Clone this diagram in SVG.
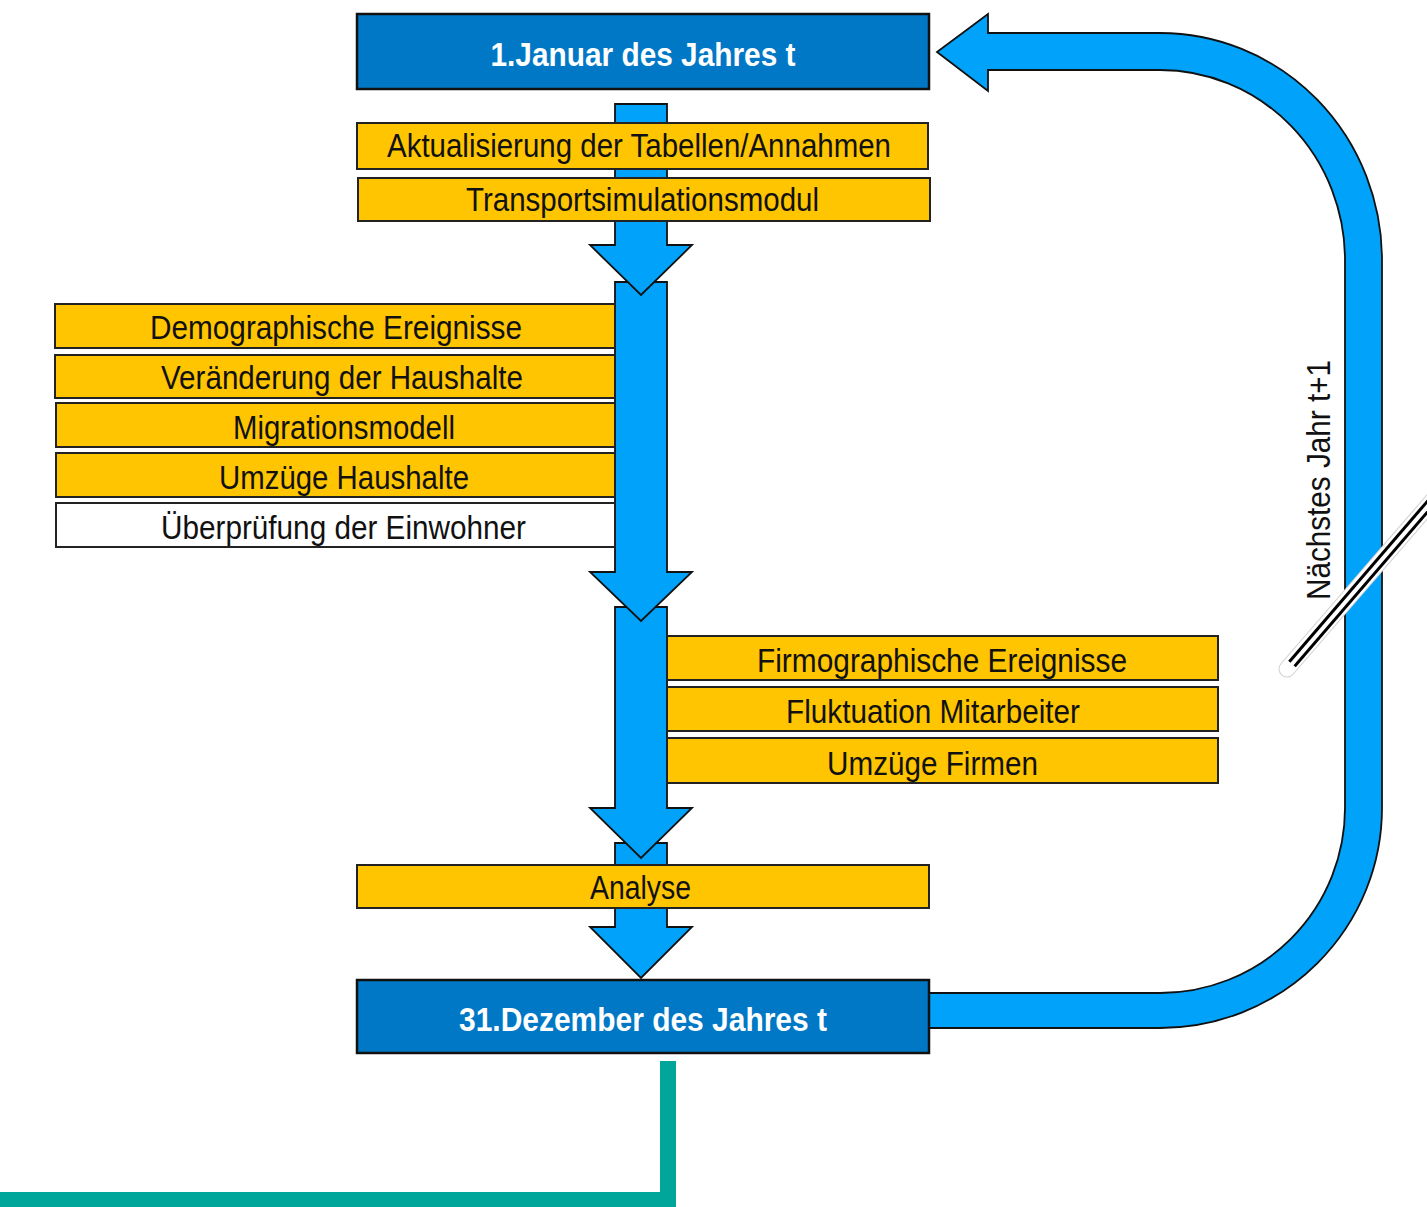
<svg xmlns="http://www.w3.org/2000/svg" width="1427" height="1207" viewBox="0 0 1427 1207">
<style>
.bg{fill:#ffffff}
.arrow{fill:#00A2FA;stroke:#111;stroke-width:1.8;stroke-linejoin:miter}
.blue{fill:#0078C6;stroke:#111;stroke-width:2.5}
.yel{fill:#FFC500;stroke:#222;stroke-width:2}
.wht{fill:#ffffff;stroke:#222;stroke-width:2}
.t{font-family:"Liberation Sans Narrow","Arial Narrow","Liberation Sans",Arial,sans-serif;font-size:33px;fill:#111;text-anchor:middle}
.tb{font-family:"Liberation Sans Narrow","Arial Narrow","Liberation Sans",Arial,sans-serif;font-size:33px;font-weight:bold;fill:#ffffff;text-anchor:middle}
.green{fill:#00A699}
</style>
<rect class="bg" x="0" y="0" width="1427" height="1207"/>

<g id="connectors">
  <path id="loop" class="arrow" d="M925,993 L1160,993 A185,185 0 0 0 1345,808 L1345,260 A185,190 0 0 0 1160,70 L988,70 L988,91 L937,52 L988,14 L988,33 L1160,33 A222,227 0 0 1 1382,260 L1382,808 A222,220 0 0 1 1160,1028 L925,1028 Z"/>
  <polygon id="arrow4" class="arrow" points="615,843 667,843 667,927 692,927 641,978 590,927 615,927"/>
  <polygon id="arrow3" class="arrow" points="615,607 667,607 667,808 692,808 641,858 590,808 615,808"/>
  <polygon id="arrow2" class="arrow" points="615,282 667,282 667,572 692,572 641,621 590,572 615,572"/>
  <polygon id="arrow1" class="arrow" points="615,104 667,104 667,245 692,245 641,295 590,245 615,245"/>
  <path id="output-line" class="green" d="M660,1061 L676,1061 L676,1207 L0,1207 L0,1192 L660,1192 Z"/>
</g>

<g id="n-start">
  <rect class="blue" x="357" y="14" width="572" height="75"/>
  <text class="tb" x="643" y="66" textLength="305" lengthAdjust="spacingAndGlyphs">1.Januar des Jahres t</text>
</g>
<g id="n-aktualisierung">
  <rect class="yel" x="357" y="123" width="571" height="46"/>
  <text class="t" x="639" y="157" textLength="504" lengthAdjust="spacingAndGlyphs">Aktualisierung der Tabellen/Annahmen</text>
</g>
<g id="n-transport">
  <rect class="yel" x="358" y="178" width="572" height="43"/>
  <text class="t" x="642.5" y="211" textLength="353" lengthAdjust="spacingAndGlyphs">Transportsimulationsmodul</text>
</g>

<g id="n-demographie">
  <rect class="yel" x="55" y="304" width="560" height="44"/>
  <text class="t" x="336" y="339" textLength="372" lengthAdjust="spacingAndGlyphs">Demographische Ereignisse</text>
</g>
<g id="n-haushalte">
  <rect class="yel" x="55" y="355" width="560" height="43"/>
  <text class="t" x="342" y="389" textLength="362" lengthAdjust="spacingAndGlyphs">Veränderung der Haushalte</text>
</g>
<g id="n-migration">
  <rect class="yel" x="56" y="403" width="559" height="44"/>
  <text class="t" x="344" y="439" textLength="222" lengthAdjust="spacingAndGlyphs">Migrationsmodell</text>
</g>
<g id="n-umzuege-haushalte">
  <rect class="yel" x="56" y="453" width="559" height="44"/>
  <text class="t" x="344" y="489" textLength="250" lengthAdjust="spacingAndGlyphs">Umzüge Haushalte</text>
</g>
<g id="n-einwohner">
  <rect class="wht" x="56" y="503" width="559" height="44"/>
  <text class="t" x="343.5" y="539" textLength="365" lengthAdjust="spacingAndGlyphs">Überprüfung der Einwohner</text>
</g>

<g id="n-firmographie">
  <rect class="yel" x="667" y="636" width="551" height="44"/>
  <text class="t" x="942" y="672" textLength="370" lengthAdjust="spacingAndGlyphs">Firmographische Ereignisse</text>
</g>
<g id="n-fluktuation">
  <rect class="yel" x="667" y="687" width="551" height="44"/>
  <text class="t" x="933" y="723" textLength="294" lengthAdjust="spacingAndGlyphs">Fluktuation Mitarbeiter</text>
</g>
<g id="n-umzuege-firmen">
  <rect class="yel" x="667" y="738" width="551" height="45"/>
  <text class="t" x="932.5" y="775" textLength="211" lengthAdjust="spacingAndGlyphs">Umzüge Firmen</text>
</g>

<g id="n-analyse">
  <rect class="yel" x="357" y="865" width="572" height="43"/>
  <text class="t" x="640.5" y="899" textLength="101" lengthAdjust="spacingAndGlyphs">Analyse</text>
</g>
<g id="n-end">
  <rect class="blue" x="357" y="980" width="572" height="73"/>
  <text class="tb" x="643" y="1031" textLength="368" lengthAdjust="spacingAndGlyphs">31.Dezember des Jahres t</text>
</g>

<g id="loop-label">
  <text class="t" transform="translate(1330,480) rotate(-90)" x="0" y="0" textLength="240" lengthAdjust="spacingAndGlyphs">Nächstes Jahr t+1</text>
</g>

<g id="break-mark">
  <line x1="1287" y1="669" x2="1440" y2="492" stroke="#d0d0d0" stroke-width="17" stroke-linecap="round"/>
  <line x1="1287" y1="669" x2="1440" y2="492" stroke="#ffffff" stroke-width="15" stroke-linecap="round"/>
  <line x1="1292" y1="664" x2="1440" y2="492" stroke="#000000" stroke-width="10"/>
  <line x1="1286" y1="671" x2="1440" y2="492" stroke="#ffffff" stroke-width="4"/>
</g>
</svg>
